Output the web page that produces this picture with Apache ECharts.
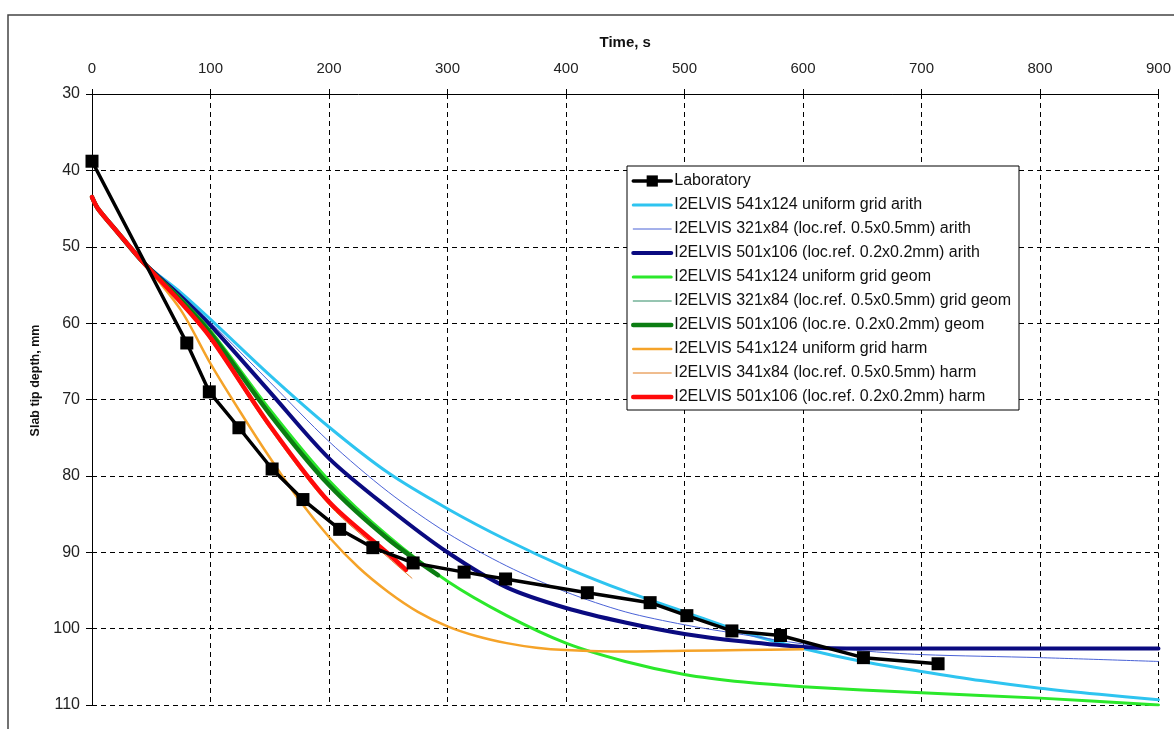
<!DOCTYPE html>
<html>
<head>
<meta charset="utf-8">
<script src="https://cdn.jsdelivr.net/npm/echarts@6/dist/echarts.min.js"></script>
<style>
html,body{margin:0;padding:0;background:#fff;}
#chart{width:1174px;height:729px;}
</style>
</head>
<body>
<div id="chart"></div>
<script>
// ---- Data (time, s / slab tip depth, mm) ----
var xTicks = [0, 100, 200, 300, 400, 500, 600, 700, 800, 900];
var yTicks = [30, 40, 50, 60, 70, 80, 90, 100, 110];

var seriesNames = [
  'Laboratory',
  'I2ELVIS 541x124 uniform grid arith',
  'I2ELVIS 321x84 (loc.ref. 0.5x0.5mm) arith',
  'I2ELVIS 501x106 (loc.ref. 0.2x0.2mm) arith',
  'I2ELVIS 541x124 uniform grid geom',
  'I2ELVIS 321x84 (loc.ref. 0.5x0.5mm) grid geom',
  'I2ELVIS 501x106 (loc.re. 0.2x0.2mm) geom',
  'I2ELVIS 541x124 uniform grid harm',
  'I2ELVIS 341x84 (loc.ref. 0.5x0.5mm) harm',
  'I2ELVIS 501x106 (loc.ref. 0.2x0.2mm) harm'
];

var labT = [0, 80, 99, 124, 152, 178, 209, 237, 271, 314, 349, 418, 471, 502, 540, 581, 651, 714];
var labD = [38.8, 62.6, 69.0, 73.7, 79.1, 83.1, 87.0, 89.4, 91.4, 92.6, 93.5, 95.3, 96.6, 98.3, 100.3, 100.9, 103.8, 104.6];

var uniArithT = [0, 5, 20, 43, 75, 100, 150, 200, 250, 300, 350, 400, 450, 500, 550, 600, 650, 700, 750, 800, 850, 900];
var uniArithD = [43.5, 45.0, 47.8, 52.0, 56.0, 59.5, 66.8, 73.6, 79.6, 84.3, 88.4, 92.0, 95.1, 97.8, 100.5, 102.6, 104.3, 105.6, 106.8, 107.8, 108.6, 109.3];

var loc05ArithT = [0, 5, 20, 43, 75, 100, 150, 200, 250, 300, 350, 400, 450, 500, 550, 600, 650, 700, 800, 900];
var loc05ArithD = [43.5, 45.0, 47.8, 52.0, 56.3, 59.9, 67.7, 75.5, 82.1, 87.5, 91.8, 95.2, 97.8, 99.5, 100.8, 102.0, 102.9, 103.4, 103.8, 104.3];

var loc02ArithT = [0, 5, 20, 43, 75, 100, 150, 200, 250, 300, 350, 400, 450, 500, 550, 600, 650, 700, 800, 900];
var loc02ArithD = [43.5, 45.0, 47.8, 52.0, 56.5, 60.3, 69.0, 77.7, 84.2, 90.0, 94.6, 97.3, 99.2, 100.7, 101.7, 102.4, 102.6, 102.6, 102.6, 102.6];

var uniGeomT = [0, 5, 20, 43, 75, 100, 150, 200, 250, 300, 350, 400, 450, 500, 550, 600, 700, 800, 900];
var uniGeomD = [43.5, 45.0, 47.8, 52.0, 56.8, 61.0, 71.3, 80.6, 87.9, 93.8, 98.3, 101.9, 104.3, 106.0, 107.0, 107.6, 108.4, 109.1, 110.0];

var loc05GeomT = [0, 5, 20, 43, 75, 100, 150, 200, 250, 290];
var loc05GeomD = [43.5, 45.0, 47.8, 52.0, 56.9, 61.1, 71.6, 80.9, 88.0, 92.7];

var loc02GeomT = [0, 5, 20, 43, 75, 100, 150, 200, 250, 292];
var loc02GeomD = [43.5, 45.0, 47.8, 52.0, 57.0, 61.3, 71.9, 81.2, 88.3, 93.0];

var uniHarmT = [0, 5, 20, 43, 75, 100, 125, 150, 175, 200, 225, 250, 275, 300, 325, 350, 375, 400, 450, 500, 550, 600];
var uniHarmD = [43.5, 45.0, 47.8, 52.0, 58.3, 65.3, 71.6, 77.6, 83.2, 88.0, 92.0, 95.2, 97.8, 99.7, 101.0, 101.9, 102.5, 102.8, 103.0, 102.9, 102.8, 102.7];

var loc05HarmT = [0, 5, 20, 43, 75, 100, 150, 200, 250, 270];
var loc05HarmD = [43.5, 45.0, 47.8, 52.0, 57.5, 62.2, 73.8, 83.8, 90.7, 93.4];

var loc02HarmT = [0, 5, 20, 43, 75, 100, 150, 200, 250, 265];
var loc02HarmD = [43.5, 45.0, 47.8, 52.0, 57.3, 61.9, 73.4, 83.4, 90.2, 92.3];

// ---- Build ----
function pairs(t, d) { return t.map(function (v, i) { return [v, d[i]]; }); }

var FONT = 'Liberation Sans, Arial, sans-serif';

var styles = [
  { color: '#000000', width: 3.5, z: 3 },
  { color: '#2ec4f0', width: 3, z: 2 },
  { color: '#4a62d6', width: 1, z: 2 },
  { color: '#0a0a80', width: 4, z: 2 },
  { color: '#2be82b', width: 3, z: 2 },
  { color: '#2e8b64', width: 1, z: 2 },
  { color: '#0b7d12', width: 4.5, z: 2 },
  { color: '#f5a329', width: 2.5, z: 2 },
  { color: '#e07a1f', width: 1, z: 2 },
  { color: '#ff0a0a', width: 4.5, z: 2 }
];

var dataSets = [
  pairs(labT, labD),
  pairs(uniArithT, uniArithD),
  pairs(loc05ArithT, loc05ArithD),
  pairs(loc02ArithT, loc02ArithD),
  pairs(uniGeomT, uniGeomD),
  pairs(loc05GeomT, loc05GeomD),
  pairs(loc02GeomT, loc02GeomD),
  pairs(uniHarmT, uniHarmD),
  pairs(loc05HarmT, loc05HarmD),
  pairs(loc02HarmT, loc02HarmD)
];

var series = dataSets.map(function (data, i) {
  var s = styles[i];
  var isLab = i === 0;
  return {
    name: seriesNames[i],
    type: 'line',
    data: data,
    z: s.z,
    smooth: isLab ? false : 0.3,
    symbol: isLab ? 'rect' : 'none',
    symbolSize: isLab ? 13 : 0,
    showSymbol: isLab,
    itemStyle: { color: s.color },
    lineStyle: { color: s.color, width: s.width, cap: 'round', join: 'round' },
    emphasis: { disabled: true },
    animation: false
  };
});

var legendData = seriesNames.map(function (n, i) {
  var item = { name: n, lineStyle: { width: styles[i].width, color: styles[i].color } };
  if (i > 0) item.itemStyle = { opacity: 0 };
  else item.itemStyle = { color: '#000', borderWidth: 0 };
  return item;
});

var chart = echarts.init(document.getElementById('chart'), null, { renderer: 'canvas' });
chart.setOption({
  backgroundColor: '#ffffff',
  animation: false,
  textStyle: { fontFamily: FONT },
  graphic: [{
    type: 'rect',
    shape: { x: 8, y: 15, width: 1200, height: 740 },
    style: { fill: 'none', stroke: '#444', lineWidth: 1.5 },
    silent: true,
    z: 0
  }],
  grid: { left: 92, right: 9, top: 94, bottom: 24, containLabel: false },
  legend: {
    data: legendData,
    orient: 'vertical',
    left: 627,
    top: 166,
    backgroundColor: '#ffffff',
    borderColor: '#000000',
    borderWidth: 1,
    padding: [7, 8, 5, 4],
    itemWidth: 38,
    itemHeight: 14,
    itemGap: 8,
    selectedMode: false,
    textStyle: { fontFamily: FONT, fontSize: 16, lineHeight: 16, color: '#111', padding: [0, 0, 0, -2] }
  },
  xAxis: {
    type: 'value',
    position: 'top',
    min: xTicks[0],
    max: xTicks[xTicks.length - 1],
    interval: xTicks[1] - xTicks[0],
    name: 'Time, s',
    nameLocation: 'middle',
    nameGap: 44,
    nameTextStyle: { fontFamily: FONT, fontSize: 15, fontWeight: 'bold', color: '#111' },
    axisLine: { show: true, lineStyle: { color: '#000', width: 1 } },
    axisTick: { show: true, inside: false, length: 5, lineStyle: { color: '#000' } },
    axisLabel: { fontFamily: FONT, fontSize: 15, color: '#222', margin: 18 },
    splitLine: { show: true, lineStyle: { color: '#000', width: 1, type: [5, 4] } }
  },
  yAxis: {
    type: 'value',
    inverse: true,
    min: yTicks[0],
    max: yTicks[yTicks.length - 1],
    interval: yTicks[1] - yTicks[0],
    name: 'Slab tip depth, mm',
    nameLocation: 'middle',
    nameGap: 50,
    nameRotate: 90,
    nameTextStyle: { fontFamily: FONT, fontSize: 12.5, fontWeight: 'bold', color: '#111', padding: [0, 0, 0, 38] },
    axisLine: { show: true, lineStyle: { color: '#000', width: 1 } },
    axisTick: { show: true, inside: false, length: 6, lineStyle: { color: '#000' } },
    axisLabel: { fontFamily: FONT, fontSize: 16, color: '#222', margin: 12 },
    splitLine: { show: true, lineStyle: { color: '#000', width: 1, type: [5, 4] } }
  },
  series: series
});
</script>
</body>
</html>
